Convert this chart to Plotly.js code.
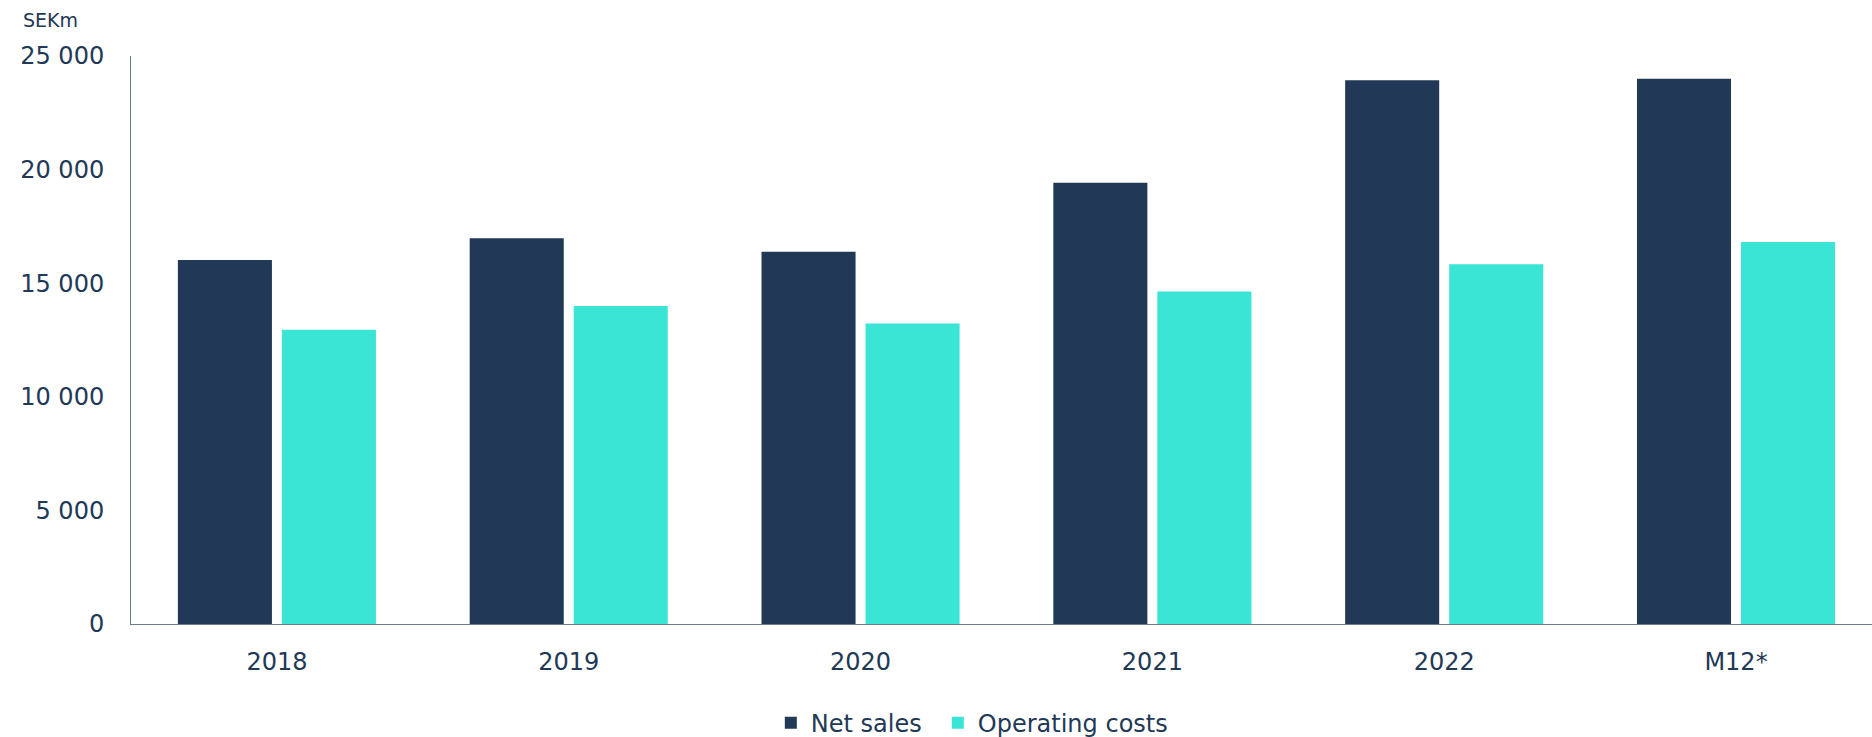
<!DOCTYPE html>
<html>
<head>
<meta charset="utf-8">
<script src="https://cdn.plot.ly/plotly-3.0.1.min.js"></script>
<style>
html,body{margin:0;padding:0;background:#fff;}
#chart{width:1872px;height:737px;}
</style>
</head>
<body>
<div id="chart"></div>
<script>
const categories = ["2018", "2019", "2020", "2021", "2022", "M12*"];
const netSales = [16020, 16980, 16380, 19420, 23930, 24000];
const operatingCosts = [12950, 14000, 13230, 14640, 15830, 16810];
const yTickValues = [0, 5000, 10000, 15000, 20000, 25000];
const yTickLabels = ["0", "5 000", "10 000", "15 000", "20 000", "25 000"];

const navy = "#213956";
const teal = "#3be5d6";
const textColor = "#213956";
const axisColor = "#6b7a8f";
const fontFamily = "DejaVu Sans, sans-serif";

const traces = [
  {type: "bar", name: "Net sales", x: categories, y: netSales,
   marker: {color: navy}, hoverinfo: "none", legendwidth: 122},
  {type: "bar", name: "Operating costs", x: categories, y: operatingCosts,
   marker: {color: teal}, hoverinfo: "none", legendwidth: 200}
];

const layout = {
  width: 1872, height: 737,
  margin: {l: 131, r: 0, t: 56, b: 113, pad: 0, autoexpand: false},
  paper_bgcolor: "#ffffff", plot_bgcolor: "#ffffff",
  font: {family: fontFamily, size: 24, color: textColor},
  barmode: "group", bargap: 0.287, bargroupgap: 0.096,
  xaxis: {
    type: "category",
    range: [-0.5, 5.466],
    showgrid: false, zeroline: false,
    showline: true, linecolor: axisColor, linewidth: 1,
    ticks: "", ticklabelstandoff: 16,
    tickfont: {family: fontFamily, size: 24, color: textColor},
    fixedrange: true
  },
  yaxis: {
    range: [0, 25000],
    tickvals: yTickValues, ticktext: yTickLabels,
    showgrid: false, zeroline: false,
    showline: true, linecolor: axisColor, linewidth: 1,
    ticks: "", ticklabelstandoff: 21,
    tickfont: {family: fontFamily, size: 24, color: textColor},
    fixedrange: true
  },
  showlegend: true,
  legend: {
    orientation: "h", x: 0.3675, xanchor: "left", y: -0.1744, yanchor: "middle",
    font: {family: fontFamily, size: 24, color: textColor},
    bgcolor: "rgba(0,0,0,0)"
  },
  annotations: [{
    text: "SEKm", xref: "paper", yref: "paper",
    x: -0.063, y: 1.064, xanchor: "left", yanchor: "middle",
    showarrow: false,
    font: {family: fontFamily, size: 19, color: textColor}
  }]
};

Plotly.newPlot("chart", traces, layout, {displayModeBar: false, staticPlot: true});
</script>
</body>
</html>
